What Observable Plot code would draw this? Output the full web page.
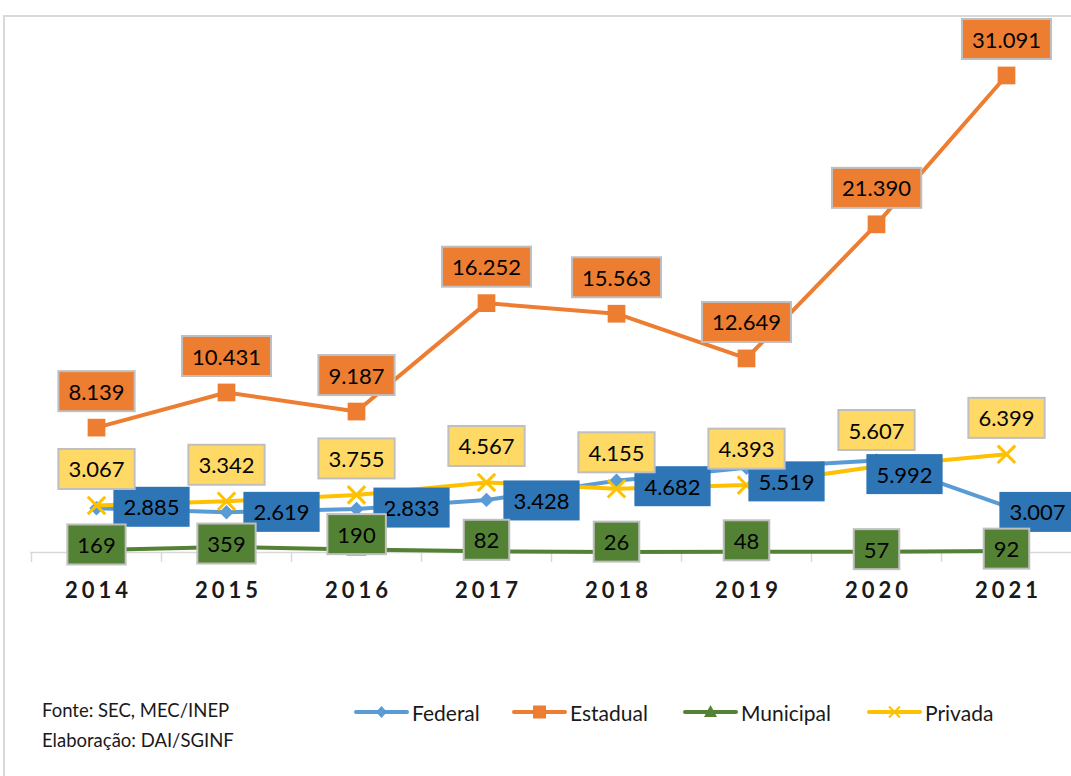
<!DOCTYPE html>
<html>
<head>
<meta charset="utf-8">
<script src="https://cdn.jsdelivr.net/npm/d3@7"></script>
<script src="https://cdn.jsdelivr.net/npm/@observablehq/plot@0.6"></script>
<style>
  body { margin: 0; background: #fff; font-family: Lato, "Open Sans", sans-serif; }
  #wrap { position: relative; width: 1071px; height: 776px; overflow: hidden; background: #fff; }
  #frame { position: absolute; left: 3px; top: 15px; width: 1200px; height: 900px; border: 2px solid #d9d9d9; box-sizing: border-box; }
  #chart { position: absolute; left: 0; top: 0; }
  #chart svg { overflow: visible; }
  #source { position: absolute; left: 42px; top: 695px; font-size: 18.5px; line-height: 30px; color: #1a1a1a; }
  .leg { position: absolute; top: 700px; height: 24px; display: flex; align-items: center; font-size: 21px; color: #1a1a1a; }
  .leg svg { margin-right: 3px; }
</style>
</head>
<body>
<div id="wrap">
  <div id="frame"></div>
  <div id="chart"></div>
  <div id="source"></div>
  <div id="legend"></div>
</div>
<script>
// ---- data ----
const years = ["2014", "2015", "2016", "2017", "2018", "2019", "2020", "2021"];
const seriesNames = ["Federal", "Estadual", "Municipal", "Privada"];
const federal   = [2885, 2619, 2833, 3428, 4682, 5519, 5992, 3007];
const estadual  = [8139, 10431, 9187, 16252, 15563, 12649, 21390, 31091];
const municipal = [169, 359, 190, 82, 26, 48, 57, 92];
const privada   = [3067, 3342, 3755, 4567, 4155, 4393, 5607, 6399];
const sourceLines = ["Fonte: SEC, MEC/INEP", "Elaboração: DAI/SGINF"];

// ---- styling ----
const seriesValues = {Federal: federal, Estadual: estadual, Municipal: municipal, Privada: privada};
const lineColor = {Federal: "#5b9bd5", Estadual: "#ed7d31", Municipal: "#548235", Privada: "#ffc000"};
// label text colours are near-black, each distinct so their groups can be found after rendering
const labelInk = {Federal: "#010101", Estadual: "#020202", Municipal: "#030303", Privada: "#040404"};
const boxStyle = {
  Federal:   {fill: "#2e75b6", stroke: "none"},
  Estadual:  {fill: "#ed7d31", stroke: "#bfbfbf"},
  Municipal: {fill: "#548235", stroke: "#bfbfbf"},
  Privada:   {fill: "#ffd966", stroke: "#bfbfbf"}
};
const markerStyle = {
  Federal:   {symbol: "diamond2", r: 6.5, fill: lineColor.Federal},
  Estadual:  {symbol: "square", r: 10, fill: lineColor.Estadual},
  Municipal: {symbol: "triangle", r: 7.5, fill: lineColor.Municipal},
  Privada:   {symbol: "times", r: 8, stroke: lineColor.Privada, strokeWidth: 3}
};
// label offsets [dx, dy] in pixels, per year
const labelNudge = {
  Federal:   [[55,0],[55,1],[55,0],[55,2],[56,7],[40,15],[28,15],[31,7]],
  Estadual:  years.map(() => [0,-35]),
  Municipal: [[0,-4],[0,-2],[0,-14],[0,-10],[0,-9],[0,-10],[0,-1],[0,-1]],
  Privada:   years.map(() => [0,-35])
};

const fmt = d3.formatLocale({decimal: ",", thousands: ".", grouping: [3], currency: ["R$", ""]}).format(",d");
const rows = seriesNames.flatMap(s => years.map((y, i) => ({series: s, year: y, value: seriesValues[s][i]})));

const marks = [
  Plot.ruleY([0], {stroke: "#d9d9d9", strokeWidth: 1.5}),
  Plot.ruleX(years, {x: d => d, y1: 0, y2: 0, dx: -65, insetBottom: -10, stroke: "#d9d9d9", strokeWidth: 1.5}),
  Plot.text(years, {x: d => d, frameAnchor: "bottom", lineAnchor: "middle", dy: 38, dx: 2, text: d => d,
    fontSize: 22, fontWeight: 700, fill: "#1a1a1a", fontFamily: "Lato"})
];
for (const s of seriesNames) {
  const data = rows.filter(r => r.series === s);
  marks.push(Plot.line(data, {x: "year", y: "value", stroke: lineColor[s], strokeWidth: 4}));
  marks.push(Plot.dot(data, {x: "year", y: "value", ...markerStyle[s]}));
}
for (const s of seriesNames) {
  rows.filter(r => r.series === s).forEach((r, i) => {
    const [dx, dy] = labelNudge[s][i];
    marks.push(Plot.text([r], {x: "year", y: "value", text: d => fmt(d.value), dx, dy,
      fontSize: 22, fontFamily: "Lato", fill: labelInk[s]}));
  });
}

const chart = Plot.plot({
  width: 1071,
  height: 640,
  marginTop: 15,
  marginBottom: 88,
  marginLeft: 30,
  marginRight: 0,
  x: {type: "point", domain: years, padding: 0.5, axis: null},
  y: {domain: [0, 35000], axis: null},
  style: {background: "transparent", fontFamily: "Lato"},
  marks
});
document.getElementById("chart").append(chart);

// letter-spaced year labels
chart.querySelectorAll('[font-weight="700"] text, text[font-weight="700"]').forEach(t => t.setAttribute("letter-spacing", "4"));

// boxes behind data labels
const svgns = "http://www.w3.org/2000/svg";
for (const s of seriesNames) {
  const texts = [...chart.querySelectorAll("text")].filter(t => {
    const f = (t.getAttribute("fill") || (t.parentNode && t.parentNode.getAttribute && t.parentNode.getAttribute("fill")) || "").toLowerCase();
    return f === labelInk[s];
  });
  texts.forEach(t => {
    const bb = t.getBBox();
    const w = bb.width + 20, h = 40;
    const r = document.createElementNS(svgns, "rect");
    r.setAttribute("x", bb.x + bb.width / 2 - w / 2);
    r.setAttribute("y", bb.y + bb.height / 2 - h / 2);
    r.setAttribute("width", w);
    r.setAttribute("height", h);
    r.setAttribute("fill", boxStyle[s].fill);
    r.setAttribute("stroke", boxStyle[s].stroke);
    r.setAttribute("stroke-width", 2);
    const tr = t.getAttribute("transform");
    if (tr) r.setAttribute("transform", tr);
    t.parentNode.insertBefore(r, t);
  });
}

// legend
const legendLeft = {Federal: 354, Estadual: 512, Municipal: 683, Privada: 867};
const legendSymbol = {
  Federal: c => `<path d="M27.5 4 L33 10 L27.5 16 L22 10 Z" fill="${c}"/>`,
  Estadual: c => `<rect x="21" y="3.5" width="13" height="13" fill="${c}"/>`,
  Municipal: c => `<path d="M27.5 3 L34 15 L21 15 Z" fill="${c}"/>`,
  Privada: c => `<path d="M22 4.5 L33 15.5 M33 4.5 L22 15.5" stroke="${c}" stroke-width="2"/>`
};
const legend = document.getElementById("legend");
for (const s of seriesNames) {
  const c = lineColor[s];
  const div = document.createElement("div");
  div.className = "leg";
  div.style.left = legendLeft[s] + "px";
  div.innerHTML = `<svg width="55" height="20"><line x1="2" x2="53" y1="10" y2="10" stroke="${c}" stroke-width="4" stroke-linecap="round"/>${legendSymbol[s](c)}</svg><span>${s}</span>`;
  legend.append(div);
}
document.getElementById("source").innerHTML = sourceLines.join("<br>");
</script>
</body>
</html>
